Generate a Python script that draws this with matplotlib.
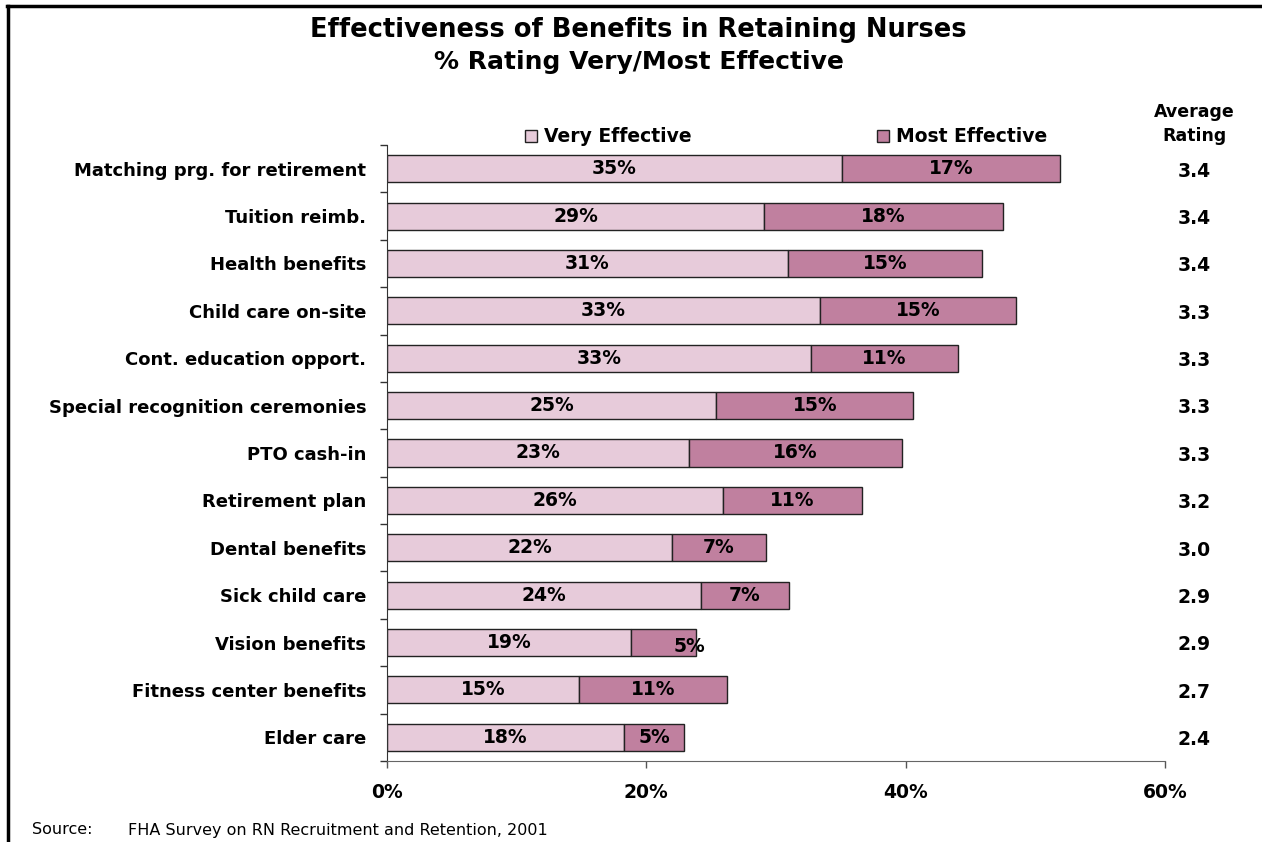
import matplotlib
matplotlib.use("Agg")
import matplotlib.pyplot as plt
from matplotlib.lines import Line2D
from matplotlib.patches import Rectangle
from matplotlib.transforms import blended_transform_factory

benefits = [
    "Matching prg. for retirement",
    "Tuition reimb.",
    "Health benefits",
    "Child care on-site",
    "Cont. education opport.",
    "Special recognition ceremonies",
    "PTO cash-in",
    "Retirement plan",
    "Dental benefits",
    "Sick child care",
    "Vision benefits",
    "Fitness center benefits",
    "Elder care",
]
very_effective = [35.1, 29.1, 30.9, 33.4, 32.7, 25.4, 23.3, 25.9, 22.0, 24.2, 18.8, 14.8, 18.3]
most_effective = [16.8, 18.4, 15.0, 15.1, 11.3, 15.2, 16.4, 10.7, 7.2, 6.8, 5.0, 11.4, 4.6]
avg_rating = [3.4, 3.4, 3.4, 3.3, 3.3, 3.3, 3.3, 3.2, 3.0, 2.9, 2.9, 2.7, 2.4]
series_names = ["Very Effective", "Most Effective"]
x_ticks = [0, 20, 40, 60]

LIGHT = "#E7CBDA"
DARK = "#C0809F"
W, H = 1262, 842
FS = 13

plt.rcParams["font.family"] = "DejaVu Sans"

fig = plt.figure(figsize=(W / 100, H / 100), dpi=100)
ax = fig.add_axes([387 / W, 1 - 761 / H, (1165 - 387) / W, (761 - 145) / H])

y = list(range(len(benefits)))
ax.barh(y, very_effective, height=0.57, color=LIGHT, edgecolor="#222222", linewidth=1)
ax.barh(y, most_effective, left=very_effective, height=0.57, color=DARK,
        edgecolor="#222222", linewidth=1)

# value labels centred in each segment (the small vision segment label sits off to the right)
label_shift = {10: (2.0, 0.08)}
for i, (v, m) in enumerate(zip(very_effective, most_effective)):
    ax.text(v / 2, i, f"{v:.0f}%", ha="center", va="center", fontsize=FS + 0.5, fontweight="bold")
    dx, dy = label_shift.get(i, (0, 0))
    ax.text(v + m / 2 + dx, i + dy, f"{m:.0f}%", ha="center", va="center",
            fontsize=FS + 0.5, fontweight="bold")

ax.set_xlim(0, 60)
ax.set_ylim(len(benefits) - 0.5, -0.5)
ax.set_xticks(x_ticks)
ax.set_xticklabels([f"{t}%" for t in x_ticks], fontsize=FS + 0.5, fontweight="bold")
ax.tick_params(axis="x", length=5, width=1, color="#555555", pad=11)

ax.set_yticks(y)
ax.set_yticklabels(benefits, fontsize=FS, fontweight="bold")
ax.tick_params(axis="y", which="major", length=0, pad=15)
ax.set_yticks([i - 0.5 for i in range(len(benefits) + 1)], minor=True)
ax.tick_params(axis="y", which="minor", length=5, width=1, color="#333333")

for side in ("top", "right"):
    ax.spines[side].set_visible(False)
ax.spines["left"].set_color("#333333")
ax.spines["bottom"].set_color("#666666")

# average rating column on the right
tr = blended_transform_factory(fig.transFigure, ax.transData)
fig.text(1194 / W, 1 - 112 / H, "Average", ha="center", va="center", fontsize=FS - 0.5,
         fontweight="bold")
fig.text(1194 / W, 1 - 136 / H, "Rating", ha="center", va="center", fontsize=FS - 0.5,
         fontweight="bold")
for i, r in enumerate(avg_rating):
    ax.text(1194 / W, i + 0.05, f"{r:.1f}", transform=tr, ha="center", va="center",
            fontsize=FS + 0.5, fontweight="bold")

# legend squares
for name, color, x0 in zip(series_names, [LIGHT, DARK], [525, 877]):
    fig.add_artist(Rectangle((x0 / W, 1 - 142 / H), 12 / W, 12 / H, transform=fig.transFigure,
                             facecolor=color, edgecolor="#222222", linewidth=1))
    fig.text((x0 + 19) / W, 1 - 136 / H, name, ha="left", va="center", fontsize=FS + 0.5,
             fontweight="bold")

fig.text(0.506, 1 - 30 / H, "Effectiveness of Benefits in Retaining Nurses", ha="center",
         va="center", fontsize=18.5, fontweight="bold")
fig.text(0.506, 1 - 62 / H, "% Rating Very/Most Effective", ha="center", va="center",
         fontsize=18, fontweight="bold")

fig.text(32 / W, 1 - 830 / H, "Source:", ha="left", va="center", fontsize=11.5)
fig.text(128 / W, 1 - 830 / H, "FHA Survey on RN Recruitment and Retention, 2001", ha="left",
         va="center", fontsize=11.5)

# frame: top and left edges only
fig.add_artist(Line2D([7 / W, 1], [1 - 6 / H, 1 - 6 / H], transform=fig.transFigure,
                      color="black", linewidth=2.5))
fig.add_artist(Line2D([8 / W, 8 / W], [0, 1 - 6 / H], transform=fig.transFigure,
                      color="black", linewidth=2.5))

fig.savefig("out.png", dpi=100)
